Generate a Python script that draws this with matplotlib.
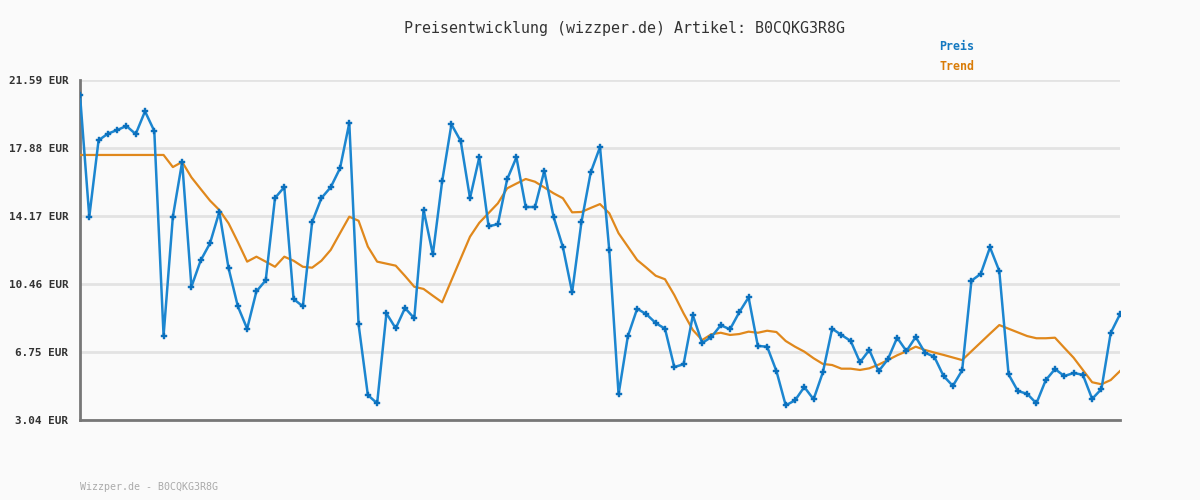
#!/usr/bin/env python
import matplotlib
matplotlib.use("Agg")
import matplotlib.pyplot as plt
import numpy as np

# price readings (EUR), one per sample
preis = [20.77, 14.13, 18.30, 18.66, 18.86, 19.08, 18.64, 19.88, 18.81, 7.64,
         14.13, 17.12, 10.31, 11.75, 12.68, 14.39, 11.32, 9.24, 8.02, 10.06,
         10.66, 15.15, 15.75, 9.64, 9.24, 13.84, 15.15, 15.74, 16.77, 19.24,
         8.26, 4.40, 3.95, 8.86, 8.04, 9.15, 8.59, 14.50, 12.08, 16.06,
         19.17, 18.26, 15.14, 17.37, 13.61, 13.72, 16.17, 17.37, 14.66, 14.66,
         16.63, 14.12, 12.48, 10.01, 13.83, 16.55, 17.93, 12.30, 4.44, 7.61,
         9.11, 8.81, 8.33, 8.02, 5.93, 6.08, 8.75, 7.24, 7.57, 8.21,
         7.99, 8.92, 9.73, 7.08, 7.04, 5.71, 3.84, 4.11, 4.84, 4.17,
         5.64, 8.02, 7.68, 7.35, 6.19, 6.86, 5.70, 6.35, 7.53, 6.80,
         7.57, 6.71, 6.49, 5.44, 4.90, 5.75, 10.64, 11.01, 12.46, 11.17,
         5.53, 4.62, 4.47, 3.95, 5.21, 5.82, 5.44, 5.60, 5.51, 4.19,
         4.73, 7.79, 8.81]

trend = [17.50, 17.50, 17.50, 17.50, 17.50, 17.50, 17.50, 17.50, 17.50, 17.50,
         16.84, 17.12, 16.28, 15.64, 15.01, 14.50, 13.77, 12.75, 11.68, 11.95,
         11.68, 11.40, 11.95, 11.73, 11.40, 11.35, 11.73, 12.32, 13.23, 14.13,
         13.91, 12.50, 11.68, 11.57, 11.46, 10.90, 10.31, 10.19, 9.82, 9.46,
         10.66, 11.85, 13.04, 13.80, 14.33, 14.86, 15.68, 15.94, 16.19, 16.04,
         15.73, 15.41, 15.14, 14.37, 14.39, 14.61, 14.82, 14.32, 13.23, 12.50,
         11.77, 11.35, 10.91, 10.72, 9.86, 8.86, 7.95, 7.40, 7.72, 7.80,
         7.68, 7.73, 7.86, 7.80, 7.91, 7.84, 7.35, 7.04, 6.77, 6.41,
         6.10, 6.04, 5.84, 5.84, 5.77, 5.86, 6.06, 6.31, 6.57, 6.79,
         7.04, 6.86, 6.72, 6.59, 6.45, 6.31, 6.79, 7.27, 7.75, 8.22,
         8.02, 7.82, 7.62, 7.50, 7.50, 7.53, 6.98, 6.44, 5.77, 5.10,
         4.99, 5.22, 5.71]

yticks = [3.04, 6.75, 10.46, 14.17, 17.88, 21.59]
title = "Preisentwicklung (wizzper.de) Artikel: B0CQKG3R8G"
footer = "Wizzper.de - B0CQKG3R8G"

BG = "#fafafa"
BLUE = "#1c86d0"
BLUE_DARK = "#0b70bd"
ORANGE = "#e0881c"
MONO = "DejaVu Sans Mono"

fig = plt.figure(figsize=(12, 5), dpi=100, facecolor=BG)
ax = fig.add_axes([80 / 1200, 80 / 500, 1040 / 1200, 340 / 500])
ax.set_facecolor(BG)

x = np.arange(len(preis))
ax.plot(x, trend, color=ORANGE, lw=1.6, zorder=3)
ax.plot(x, preis, color=BLUE, lw=1.8, zorder=4,
        marker="P", markersize=3.8, markerfacecolor=BLUE_DARK,
        markeredgecolor=BLUE_DARK, markeredgewidth=0.3)

ax.set_xlim(0, len(preis) - 1)
ax.set_ylim(yticks[0], yticks[-1])
ax.set_xticks([])
ax.set_yticks(yticks)
ax.set_yticklabels(["%.2f EUR" % v for v in yticks],
                   fontfamily=MONO, fontweight="bold", fontsize=7.9, color="#333333")
ax.tick_params(axis="y", length=0, pad=8.5)
ax.grid(axis="y", color="#e3e3e3", lw=2)
ax.set_axisbelow(True)

for s in ["top", "right"]:
    ax.spines[s].set_visible(False)
for s in ["left", "bottom"]:
    ax.spines[s].set_color("#777777")
    ax.spines[s].set_linewidth(2)

fig.text(0.52, 1 - 29 / 500, title, ha="center", va="center",
         fontfamily=MONO, fontsize=10.8, color="#333333")
fig.text(939 / 1200, 1 - 46 / 500, "Preis", ha="left", va="center",
         fontfamily=MONO, fontweight="bold", fontsize=8.4, color="#1478c0")
fig.text(939 / 1200, 1 - 67 / 500, "Trend", ha="left", va="center",
         fontfamily=MONO, fontweight="bold", fontsize=8.4, color="#d97c08")
fig.text(80 / 1200, 1 - 487 / 500, footer, ha="left", va="center",
         fontfamily=MONO, fontsize=7.2, color="#aaaaaa")

fig.savefig("out.png", dpi=100, facecolor=BG)
